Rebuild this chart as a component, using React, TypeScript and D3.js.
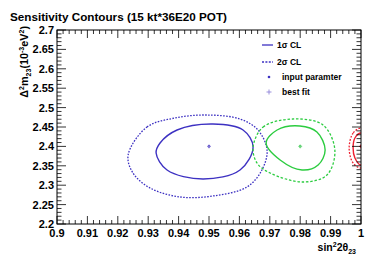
import React from "react";
import * as d3 from "d3";

// ---------- data ----------
const xTickValues = [0.9, 0.91, 0.92, 0.93, 0.94, 0.95, 0.96, 0.97, 0.98, 0.99, 1.0];
const xTickLabels = ["0.9", "0.91", "0.92", "0.93", "0.94", "0.95", "0.96", "0.97", "0.98", "0.99", "1"];
const yTickValues = [2.2, 2.25, 2.3, 2.35, 2.4, 2.45, 2.5, 2.55, 2.6, 2.65, 2.7];
const yTickLabels = ["2.2", "2.25", "2.3", "2.35", "2.4", "2.45", "2.5", "2.55", "2.6", "2.65", "2.7"];

type Pt = [number, number];

const blue1Sigma: Pt[] = [
  [0.9645, 2.3985], [0.9612, 2.4423], [0.9513, 2.4577], [0.9395, 2.4423],
  [0.9339, 2.4088], [0.9326, 2.383], [0.9362, 2.3392], [0.948, 2.316], [0.9602, 2.3392],
];
const blue2Sigma: Pt[] = [
  [0.9234, 2.3778], [0.9296, 2.45], [0.9388, 2.4732], [0.9493, 2.4809],
  [0.9602, 2.4706], [0.9661, 2.4423], [0.9691, 2.3907], [0.9674, 2.3392],
  [0.9625, 2.2954], [0.9513, 2.2722], [0.9405, 2.2696], [0.9306, 2.2928], [0.925, 2.3314],
];
const green1Sigma: Pt[] = [
  [0.9688, 2.4088], [0.9724, 2.4423], [0.9799, 2.4526], [0.9855, 2.4371],
  [0.9882, 2.3907], [0.9859, 2.3521], [0.9806, 2.3392], [0.9734, 2.365],
];
const green2Sigma: Pt[] = [
  [0.9645, 2.3985], [0.9678, 2.45], [0.9776, 2.4706], [0.9875, 2.4552],
  [0.9914, 2.3907], [0.9888, 2.3263], [0.9809, 2.3082], [0.9701, 2.3314], [0.9658, 2.3572],
];
const red1Sigma: Pt[] = [
  [1.0, 2.4345], [0.998, 2.4216], [0.9974, 2.3959], [0.998, 2.3701],
  [1.0, 2.3521], [1.002, 2.3701], [1.0026, 2.3959], [1.002, 2.4216],
];
const red2Sigma: Pt[] = [
  [1.0, 2.4474], [0.9974, 2.4345], [0.9961, 2.3959], [0.9974, 2.3572],
  [1.0, 2.3443], [1.0026, 2.3572], [1.0039, 2.3959], [1.0026, 2.4345],
];
const inputParams: Pt[] = [[0.95, 2.4], [0.98, 2.4], [1.0, 2.4]];
const bestFits: Pt[] = [[0.95, 2.4], [0.98, 2.4], [1.0, 2.4]];

// ---------- layout ----------
const W = 374, H = 260;
const L = 57, R = 361, T = 30, B = 224;
const BLUE = "#3d31c2";
const GREEN = "#2ccc40";
const RED = "#ee2030";
const FONT = "'Liberation Sans', Arial, Helvetica, sans-serif";

export default function App() {
  const x = d3.scaleLinear().domain([0.9, 1.0]).range([L, R]);
  const y = d3.scaleLinear().domain([2.2, 2.7]).range([B, T]);
  const line = d3.line<Pt>().x((d) => x(d[0])).y((d) => y(d[1])).curve(d3.curveCatmullRomClosed.alpha(0.5));

  const xMinor = x.ticks(50);
  const yMinor = y.ticks(50);
  const isMajor = (v: number, arr: number[]) => arr.some((a) => Math.abs(a - v) < 1e-6);

  const contours = [
    { pts: blue2Sigma, color: BLUE, dash: "1.6,1.4", w: 1.3 },
    { pts: blue1Sigma, color: BLUE, dash: undefined, w: 1.4 },
    { pts: green2Sigma, color: GREEN, dash: "2.5,1.8", w: 1.3 },
    { pts: green1Sigma, color: GREEN, dash: undefined, w: 1.4 },
    { pts: red2Sigma, color: RED, dash: "1.8,1.5", w: 1.3 },
    { pts: red1Sigma, color: RED, dash: undefined, w: 1.4 },
  ];

  return (
    <svg width={W} height={H} style={{ position: "absolute", left: 0, top: 0, background: "#fff" }} fontFamily={FONT}>
      <rect x={0} y={0} width={W} height={H} fill="#fff" />
      <defs>
        <clipPath id="plotclip">
          <rect x={L} y={T} width={R - L} height={B - T} />
        </clipPath>
      </defs>

      {/* title */}
      <text x={10} y={21} fontSize={11.7} fontWeight="bold" fill="#000">
        Sensitivity Contours (15 kt*36E20 POT)
      </text>

      {/* contours */}
      <g clipPath="url(#plotclip)">
        {contours.map((c, i) => (
          <path key={i} d={line(c.pts) || ""} fill="none" stroke={c.color} strokeWidth={c.w} strokeDasharray={c.dash} />
        ))}
        {inputParams.map((p, i) => (
          <circle key={"ip" + i} cx={x(p[0])} cy={y(p[1])} r={1.3} fill={i === 0 ? BLUE : i === 1 ? GREEN : RED} />
        ))}
        {bestFits.map((p, i) => (
          <g key={"bf" + i} stroke={i === 0 ? "#8f84d8" : i === 1 ? "#7ad68a" : RED} strokeWidth={0.8}>
            <line x1={x(p[0]) - 2} x2={x(p[0]) + 2} y1={y(p[1])} y2={y(p[1])} />
            <line x1={x(p[0])} x2={x(p[0])} y1={y(p[1]) - 2} y2={y(p[1]) + 2} />
          </g>
        ))}
      </g>

      {/* ticks */}
      <g stroke="#000" strokeWidth={0.8}>
        {xMinor.map((v, i) => {
          const len = isMajor(v, xTickValues) ? 8 : 4;
          const px = x(v);
          return (
            <g key={"xt" + i}>
              <line x1={px} x2={px} y1={B} y2={B - len} />
              <line x1={px} x2={px} y1={T} y2={T + len} />
            </g>
          );
        })}
        {yMinor.map((v, i) => {
          const len = isMajor(v, yTickValues) ? 9 : 4.5;
          const py = y(v);
          return (
            <g key={"yt" + i}>
              <line x1={L} x2={L + len} y1={py} y2={py} />
              <line x1={R} x2={R - len} y1={py} y2={py} />
            </g>
          );
        })}
      </g>
      <rect x={L} y={T} width={R - L} height={B - T} fill="none" stroke="#000" strokeWidth={1} />

      {/* tick labels */}
      {xTickValues.map((v, i) => (
        <text key={"xl" + i} x={x(v)} y={237} textAnchor="middle" fontSize={11} fontWeight="bold">
          {xTickLabels[i]}
        </text>
      ))}
      {yTickValues.map((v, i) => (
        <text key={"yl" + i} x={54} y={y(v)} dy="0.36em" textAnchor="end" fontSize={11} fontWeight="bold">
          {yTickLabels[i]}
        </text>
      ))}

      {/* axis titles */}
      <text x={356} y={251} textAnchor="end" fontSize={10.5} fontWeight="bold">
        sin<tspan dy={-4} fontSize={7}>2</tspan>
        <tspan dy={4}>2θ</tspan>
        <tspan dy={3} fontSize={7}>23</tspan>
      </text>
      <text transform="translate(28,26) rotate(-90)" textAnchor="end" fontSize={10.8} fontWeight="bold">
        Δ<tspan dy={-4} fontSize={7}>2</tspan>
        <tspan dy={4}>m</tspan>
        <tspan dy={3} fontSize={7}>23</tspan>
        <tspan dy={-3}>(10</tspan>
        <tspan dy={-4} fontSize={7}>-3</tspan>
        <tspan dy={4}>eV</tspan>
        <tspan dy={-4} fontSize={7}>2</tspan>
        <tspan dy={4}>)</tspan>
      </text>

      {/* legend */}
      <g fontSize={8.5} fontWeight="bold">
        <line x1={262} x2={273} y1={45} y2={45} stroke={BLUE} strokeWidth={1.3} />
        <text x={277} y={45} dy="0.35em">1σ CL</text>
        <line x1={262} x2={273} y1={62} y2={62} stroke={BLUE} strokeWidth={1.3} strokeDasharray="2,1.4" />
        <text x={277} y={62} dy="0.35em">2σ CL</text>
        <circle cx={269} cy={77} r={1.3} fill={BLUE} />
        <text x={282} y={77} dy="0.35em">input paramter</text>
        <g stroke="#8f84d8" strokeWidth={0.9}>
          <line x1={266.5} x2={271.5} y1={92} y2={92} />
          <line x1={269} x2={269} y1={89.5} y2={94.5} />
        </g>
        <text x={282} y={92} dy="0.35em">best fit</text>
      </g>
    </svg>
  );
}
